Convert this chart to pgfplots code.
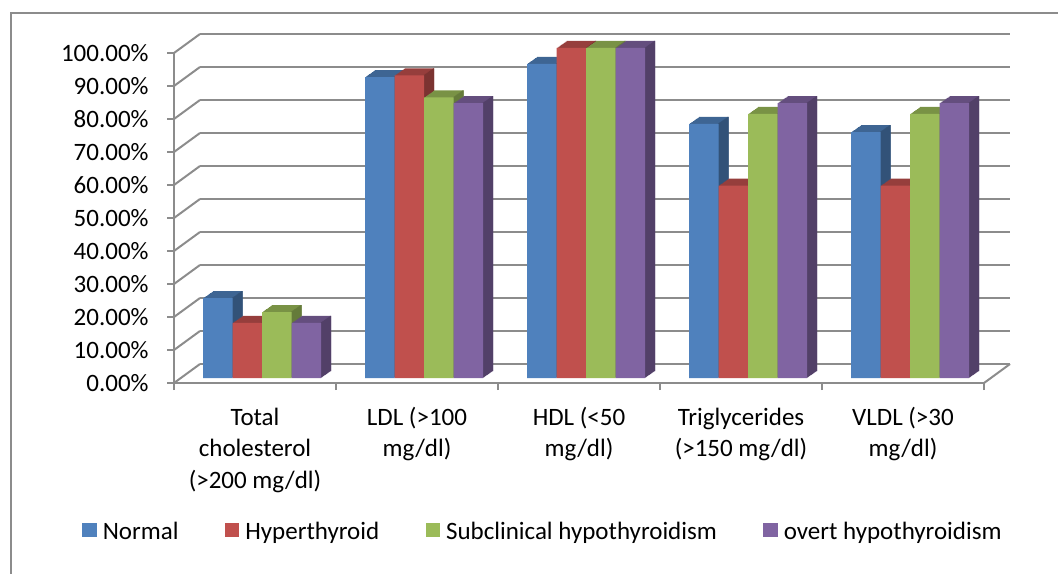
\documentclass[border=0pt]{standalone}
\usepackage{fontspec}
\setmainfont{Carlito}
\usepackage{pgfplots}
\usepackage{pgfplotstable}
\pgfplotsset{compat=1.18}
\definecolor{nblue}{HTML}{4F81BD}
\definecolor{nred}{HTML}{C0504D}
\definecolor{ngreen}{HTML}{9BBB59}
\definecolor{npurple}{HTML}{8064A2}
\colorlet{nbluetop}{nblue!78!black}
\colorlet{nblueside}{nblue!62!black}
\colorlet{nredtop}{nred!78!black}
\colorlet{nredside}{nred!64!black}
\colorlet{ngreentop}{ngreen!78!black}
\colorlet{ngreenside}{ngreen!64!black}
\colorlet{npurpletop}{npurple!78!black}
\colorlet{npurpleside}{npurple!64!black}
\definecolor{gridgray}{HTML}{8C8C8C}

\pgfplotstableread{
x n h s o
0 24.2 16.7 20.0 16.7
1 91.2 91.7 85.0 83.3
2 95.2 100 100 100
3 77.0 58.3 80.0 83.3
4 74.5 58.3 80.0 83.3
}\datatable

\newcommand\extrude[4]{%
 \pgfplotsinvokeforeach{1,...,10}{%
  \addplot[ybar, bar width=14.75pt, bar shift=#2, fill=#4top, draw=none, forget plot,
   xshift=3.5pt+##1*0.5pt, yshift=2.5pt+##1*0.35pt] table[x=x,y=#1]{\datatable};
 }%
 \pgfplotsinvokeforeach{1,...,10}{%
  \addplot[ybar, bar width=0.6pt, bar shift=#3, fill=#4side, draw=none, forget plot,
   xshift=3.5pt+##1*0.5pt, yshift=2.5pt+##1*0.35pt] table[x=x,y=#1]{\datatable};
 }%
}
\newcommand\front[3]{%
  \addplot[ybar, bar width=14.75pt, bar shift=#2, fill=#3, draw=none, forget plot,
   xshift=3.5pt, yshift=2.5pt] table[x=x,y=#1]{\datatable};
}
\newcommand\legsq[1]{\addlegendimage{legend image code/.code={\fill[#1] (0pt,-2pt) rectangle (6.6pt,4.6pt);}}}

\begin{document}
\begin{tikzpicture}[font=\fontsize{12.5}{15.75}\selectfont]
\useasboundingbox (0,0) rectangle (529pt,286.5pt);
\draw[gridgray, line width=1pt] (5.5pt,-5pt) -- (5.5pt,280pt) -- (540pt,280pt);

% back wall
\begin{axis}[at={(100pt,104.5pt)}, anchor=south west, scale only axis,
  width=405pt, height=165pt, xmin=-0.5, xmax=4.5, ymin=0, ymax=100,
  axis line style={draw=none}, xtick=\empty, ytick={0,10,...,100},
  yticklabels={}, major tick length=0pt,
  ymajorgrids, grid style={gridgray, line width=1pt}]
\addplot[draw=none, forget plot] coordinates {(0,0)};
\end{axis}

% front axis
\begin{axis}[at={(87pt,95pt)}, anchor=south west, scale only axis,
  width=405pt, height=165pt, xmin=-0.5, xmax=4.5, ymin=0, ymax=100,
  clip=false,
  axis x line*=bottom, axis y line*=left,
  axis line style={gridgray, line width=1pt},
  tick style={gridgray, line width=1pt},
  tick align=outside, major tick length=3.5pt,
  ytick={0,10,...,100},
  yticklabels={0.00\%,10.00\%,20.00\%,30.00\%,40.00\%,50.00\%,60.00\%,70.00\%,80.00\%,90.00\%,100.00\%},
  yticklabel style={anchor=east, inner sep=0pt, xshift=-9pt},
  xtick={-0.5,0.5,...,4.5}, xticklabels={,,,,,},
  extra x ticks={0,1,2,3,4},
  extra x tick labels={{\strut Total\\cholesterol\\(>200 mg/dl)},{\strut LDL (>100\\mg/dl)},{\strut HDL (<50\\mg/dl)},{\strut Triglycerides\\(>150 mg/dl)},{\strut VLDL (>30\\mg/dl)}},
  extra x tick style={major tick length=0pt},
  xticklabel style={align=center, anchor=north, inner sep=0pt, yshift=-10pt},
  legend columns=4,
  legend style={draw=none, fill=none, inner sep=0pt, at={(-0.11358,-0.4530)}, anchor=west,
    nodes={inner sep=0pt},
    /tikz/every odd column/.append style={column sep=3.2pt},
    /tikz/every even column/.append style={column sep=23.2pt}},
]
\pgfplotsinvokeforeach{0,10,...,100}{\draw[gridgray, line width=1pt] (axis cs:-0.5,#1) -- ++(13pt,9.5pt);}
\draw[gridgray, line width=1pt] (axis cs:4.5,0) -- ++(13pt,9.5pt);

\extrude{n}{-22.125pt}{-15.05pt}{nblue}
\extrude{h}{-7.375pt}{-0.3pt}{nred}
\extrude{s}{7.375pt}{14.45pt}{ngreen}
\extrude{o}{22.125pt}{29.2pt}{npurple}
\front{n}{-22.125pt}{nblue}
\front{h}{-7.375pt}{nred}
\front{s}{7.375pt}{ngreen}
\front{o}{22.125pt}{npurple}

\legsq{nblue}\addlegendentry{Normal}
\legsq{nred}\addlegendentry{Hyperthyroid}
\legsq{ngreen}\addlegendentry{Subclinical hypothyroidism}
\legsq{npurple}\addlegendentry{overt hypothyroidism}
\end{axis}
\end{tikzpicture}
\end{document}
